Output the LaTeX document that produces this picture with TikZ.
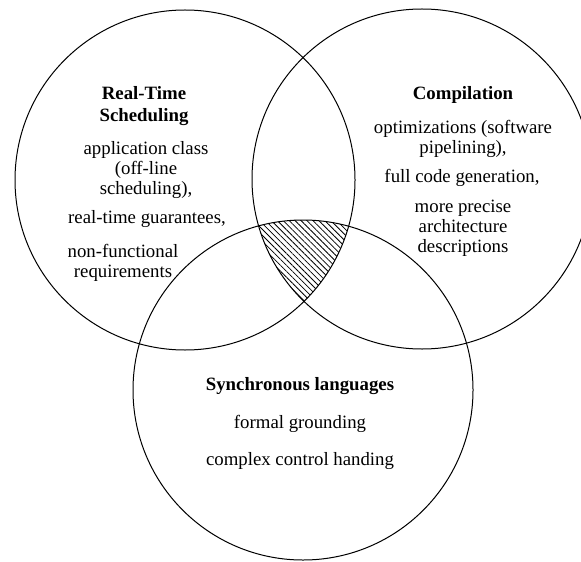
\documentclass[tikz,border=0pt]{standalone}
\usepackage{fontspec}
\setmainfont{Liberation Serif}
\usetikzlibrary{patterns.meta}
\begin{document}
\begin{tikzpicture}[x=0.5pt,y=-0.5pt,
  venn/.style={circle,draw,line width=0.5pt,inner sep=0pt,minimum size=170pt},
  txt/.style={align=center,inner sep=0pt,font=\fontsize{9.4}{10}\selectfont},
  ttl/.style={txt,font=\fontsize{9.4}{11}\selectfont\bfseries}]
\useasboundingbox (0,0) rectangle (581,561);

% circle centres
\coordinate (lc) at (185,180);
\coordinate (rc) at (422,179);
\coordinate (bc) at (303,390);

% common region of the three sets
\begin{scope}
  \clip (lc) circle[radius=85pt];
  \clip (rc) circle[radius=85pt];
  \path[pattern={Lines[angle=-45,distance=2.1pt,line width=0.4pt]}] (bc) circle[radius=85pt];
\end{scope}

\node[venn] (rts) at (lc) {};
\node[venn] (cmp) at (rc) {};
\node[venn] (syn) at (bc) {};

% Real-Time Scheduling
\node[ttl] (rtsT) at (144,106) {Real-Time\\Scheduling};
\node[txt] (rts1) at (146,170) {application class\\(off-line\\scheduling),};
\node[txt] (rts2) at (147,219) {real-time guarantees,};
\node[txt] (rts3) at (123,263) {non-functional\\requirements};

% Compilation
\node[ttl] (cmpT) at (463,95) {Compilation};
\node[txt] (cmp1) at (463,139) {optimizations (software\\pipelining),};
\node[txt] (cmp2) at (462,178) {full code generation,};
\node[txt] (cmp3) at (463,228) {more precise\\architecture\\descriptions};

% Synchronous languages
\node[ttl] (synT) at (300,386) {Synchronous languages};
\node[txt] (syn1) at (300,424) {formal grounding};
\node[txt] (syn2) at (300,461) {complex control handing};
\end{tikzpicture}
\end{document}
